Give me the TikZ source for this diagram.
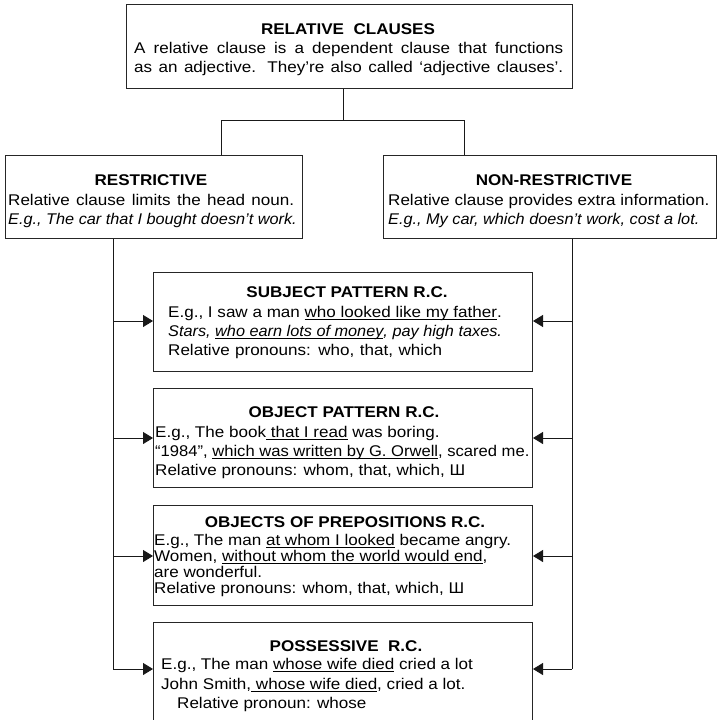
\documentclass[tikz,border=0pt]{standalone}
\usepackage{fontspec}
\setmainfont{Liberation Sans}[FakeStretch=1.10]
\newfontfamily\itfam{Liberation Sans}[FakeStretch=1.05]
\newfontfamily\narfam{Liberation Sans}[FakeStretch=1.07]
\newcommand\myul[1]{\setbox0\hbox{#1}\rlap{\rule[-2.6pt]{\wd0}{0.75pt}}\box0\relax}
\usetikzlibrary{arrows.meta}
\begin{document}
\begin{tikzpicture}[x=1pt,y=-1pt,
  box/.style={draw=black!85, line width=1pt, inner sep=0pt, anchor=north west, fill=none},
  ln/.style={anchor=base west, inner sep=0pt, font=\fontsize{15.5}{19}\selectfont},
  itln/.style={anchor=base west, inner sep=0pt, font=\fontsize{15.5}{19}\selectfont\itfam\itshape},
  narln/.style={anchor=base west, inner sep=0pt, font=\fontsize{15.5}{19}\selectfont\narfam},
  ttl/.style={anchor=base, inner sep=0pt, font=\fontsize{15.5}{19}\selectfont\bfseries},
  conn/.style={draw=black!90, line width=0.9pt},
  arr/.style={conn, -{Triangle[length=10pt,width=12pt]}}]
\useasboundingbox (0,0) rectangle (720,720);
\clip (0,0) rectangle (720,720);
\fill[white] (0,0) rectangle (720,720);

% boxes
\node[box, minimum width=446pt, minimum height=84pt] (top) at (126,4) {};
\node[box, minimum width=297pt, minimum height=83pt] (restr) at (5,155) {};
\node[box, minimum width=333pt, minimum height=83pt] (nonr) at (383,155) {};
\node[box, minimum width=379pt, minimum height=99pt] (subj) at (153,272) {};
\node[box, minimum width=379pt, minimum height=99pt] (obj) at (153,388) {};
\node[box, minimum width=379pt, minimum height=100pt] (prep) at (153,505) {};
\node[box, minimum width=379pt, minimum height=110pt] (poss) at (153,622) {};

% texts
\node[ttl] (topT) at (348,34) {RELATIVE\ \ CLAUSES};
\node[ln] (topL1) at (134,53) {\makebox[429pt][s]{A relative clause is a dependent clause that functions}};
\node[ln] (topL2) at (134,72) {\makebox[429pt][s]{as an adjective. They’re also called ‘adjective clauses’.}};

\node[ttl] (restrT) at (151,185) {RESTRICTIVE};
\node[ln] (restrL1) at (8,205) {\makebox[286pt][s]{Relative clause limits the head noun.}};
\node[itln] (restrL2) at (8,224) {E.g., The car that I bought doesn’t work.};

\node[ttl] (nonrT) at (554,185) {NON-RESTRICTIVE};
\node[ln] (nonrL1) at (388,205) {Relative clause provides extra information.};
\node[itln] (nonrL2) at (388,224) {E.g., My car, which doesn’t work, cost a lot.};

\node[ttl] (subjT) at (347,297) {SUBJECT PATTERN R.C.};
\node[ln] (subjL1) at (168,317) {E.g., I saw a man \myul{who looked like my father}.};
\node[itln] (subjL2) at (168,336) {Stars, \myul{who earn lots of money}, pay high taxes.};
\node[ln] (subjL3) at (168,355) {\makebox[274pt][s]{Relative pronouns: who, that, which}};

\node[ttl] (objT) at (344,417) {OBJECT PATTERN R.C.};
\node[ln] (objL1) at (155,437) {E.g., The book\myul{\ that I read} was boring.};
\node[narln] (objL2) at (155,456) {“1984”, \myul{which was written by G. Orwell}, scared me.};
\node[ln] (objL3) at (155,475) {Relative pronouns: whom, that, which, Ш};

\node[ttl] (prepT) at (345,527) {OBJECTS OF PREPOSITIONS R.C.};
\node[ln] (prepL1) at (154,545) {E.g., The man \myul{at whom I looked} became angry.};
\node[ln] (prepL2) at (154,561) {Women, \myul{without whom the world would end},};
\node[ln] (prepL3) at (154,577) {are wonderful.};
\node[ln] (prepL4) at (154,593) {Relative pronouns: whom, that, which, Ш};

\node[ttl] (possT) at (346,651) {POSSESSIVE\ \ R.C.};
\node[ln] (possL1) at (161,669) {E.g., The man \myul{whose wife died} cried a lot};
\node[ln] (possL2) at (161,689) {John Smith,\myul{\ whose wife died}, cried a lot.};
\node[ln] (possL3) at (177,708) {Relative pronoun: whose};

% connector coordinates
\coordinate (j) at (343,120);
\coordinate (jl) at (221,120);
\coordinate (jr) at (464,120);
\coordinate (a1) at (113,321);
\coordinate (a2) at (113,438);
\coordinate (a3) at (113,556);
\coordinate (a4) at (113,669);
\coordinate (b1) at (572,321);
\coordinate (b2) at (572,438);
\coordinate (b3) at (572,556);
\coordinate (b4) at (572,669);

\draw[conn] (top.south -| j) -- (j);
\draw[conn] (jl |- restr.north) -- (jl) -- (jr) -- (jr |- nonr.north);
\draw[conn] (a1 |- restr.south) -- (a4);
\draw[conn] (b1 |- nonr.south) -- (b4);
\draw[arr] (a1) -- (a1 -| subj.west);
\draw[arr] (a2) -- (a2 -| obj.west);
\draw[arr] (a3) -- (a3 -| prep.west);
\draw[arr] (a4) -- (a4 -| poss.west);
\draw[arr] (b1) -- (b1 -| subj.east);
\draw[arr] (b2) -- (b2 -| obj.east);
\draw[arr] (b3) -- (b3 -| prep.east);
\draw[arr] (b4) -- (b4 -| poss.east);
\end{tikzpicture}
\end{document}
